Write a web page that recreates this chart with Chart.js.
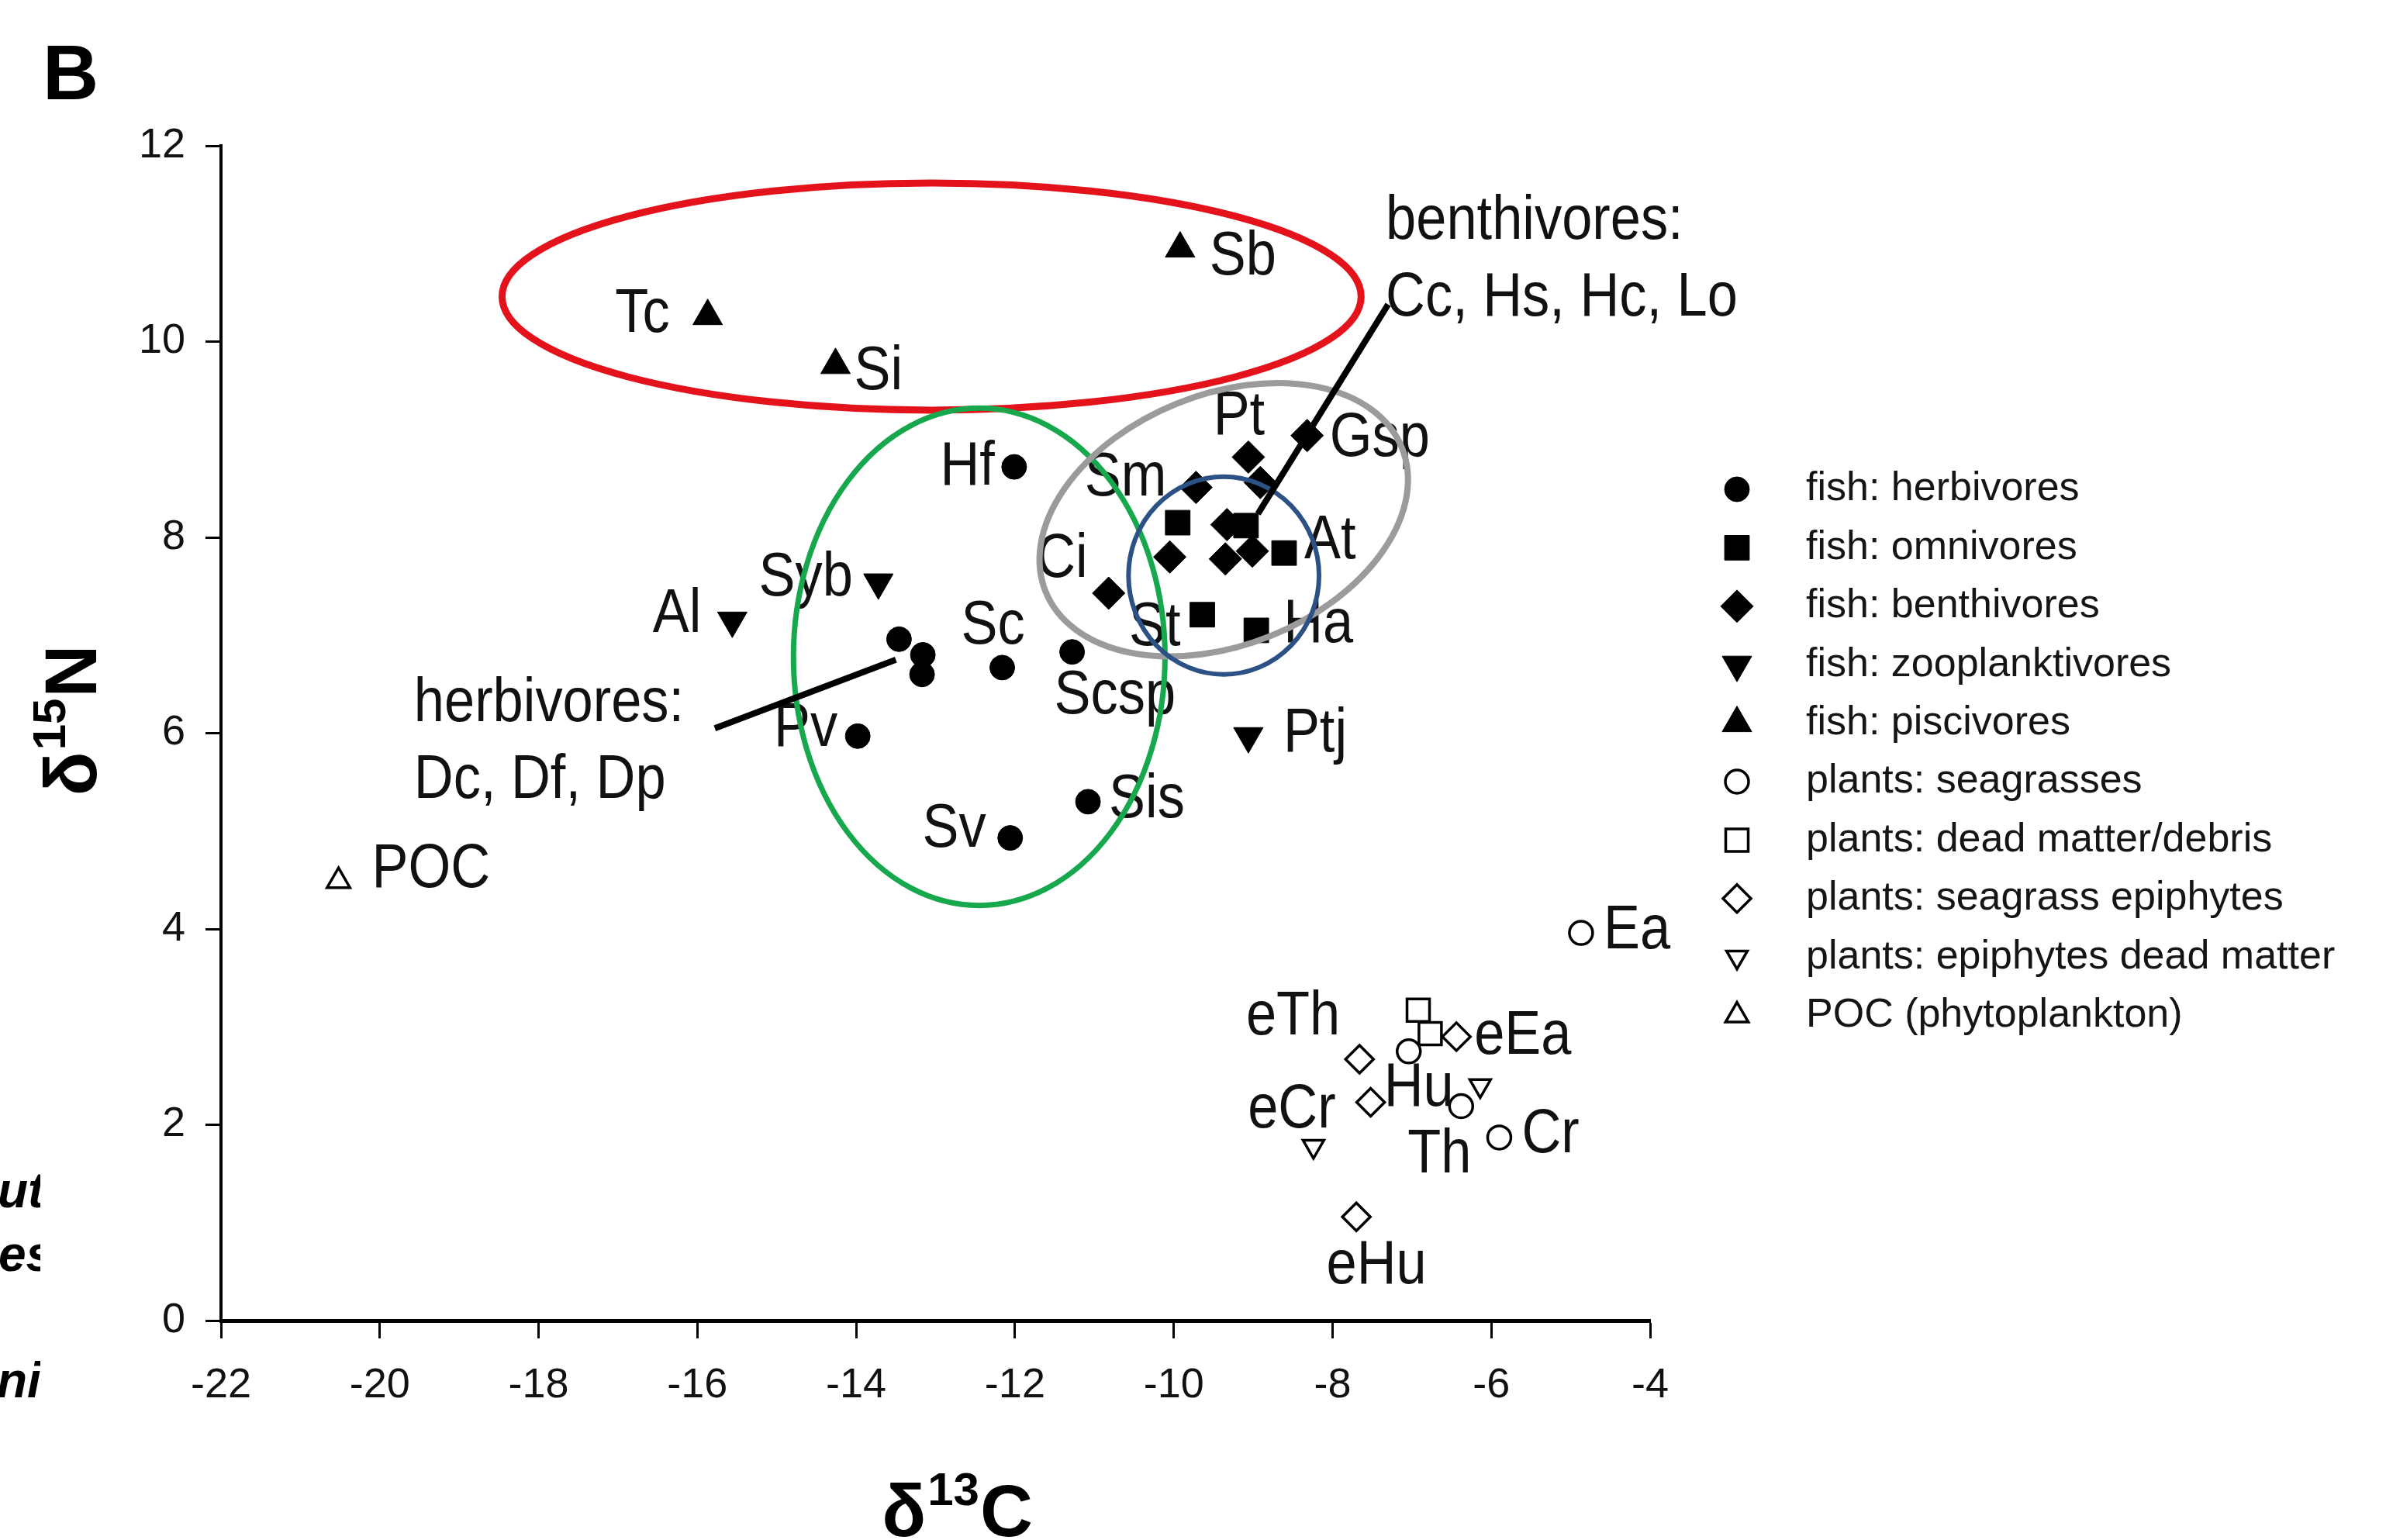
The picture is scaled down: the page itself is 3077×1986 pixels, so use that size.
<!DOCTYPE html>
<html lang="en">
<head>
  <meta charset="UTF-8">
  <title>Panel B – δ13C vs δ15N food web</title>
  <script src="https://cdn.jsdelivr.net/npm/chart.js"></script>
  <style>
    html, body { margin: 0; padding: 0; background: #fff; }
    #wrap { width: 3077px; height: 1986px; position: relative; }
  </style>
</head>
<body>
  <div id="wrap"><canvas id="isotopes"></canvas></div>
  <script>
    // legend order of the groups
    const groupNames = [
      'fish: herbivores', 'fish: omnivores', 'fish: benthivores', 'fish: zooplanktivores', 'fish: piscivores',
      'plants: seagrasses', 'plants: dead matter/debris', 'plants: seagrass epiphytes',
      'plants: epiphytes dead matter', 'POC (phytoplankton)'
    ];

    // δ13C (x) and δ15N (y) per group, names are the codes printed beside the points
    const herbNames = ['Hf', '', '', '', 'Sc', 'Scsp', 'Pv', 'Sv', 'Sis'];
    const herbC = [-12.01, -13.46, -13.16, -13.17, -12.16, -11.28, -13.98, -12.06, -11.08];
    const herbN = [8.72, 6.96, 6.80, 6.60, 6.67, 6.83, 5.97, 4.93, 5.30];

    const omniNames = ['', '', 'At', 'St', 'Ha'];
    const omniC = [-9.95, -9.09, -8.61, -9.64, -8.96];
    const omniN = [8.15, 8.12, 7.84, 7.21, 7.05];

    const benthNames = ['Gsp', 'Pt', 'Sm', '', 'Ci', '', '', '', ''];
    const benthC = [-8.32, -9.06, -9.72, -8.91, -10.82, -10.05, -9.33, -9.35, -9.01];
    const benthN = [9.04, 8.82, 8.51, 8.56, 7.43, 7.80, 8.13, 7.78, 7.86];

    const zooNames = ['Al', 'Syb', 'Ptj'];
    const zooC = [-15.56, -13.72, -9.06];
    const zooN = [7.15, 7.54, 5.97];

    const pisciNames = ['Tc', 'Si', 'Sb'];
    const pisciC = [-15.87, -14.26, -9.92];
    const pisciN = [10.26, 9.76, 10.95];

    const seagrassNames = ['Ea', 'Hu', 'Th', 'Cr'];
    const seagrassC = [-4.87, -7.04, -6.38, -5.90];
    const seagrassN = [3.96, 2.75, 2.19, 1.87];

    const debrisNames = ['', ''];
    const debrisC = [-6.92, -6.77];
    const debrisN = [3.17, 2.93];

    const epiNames = ['eTh', 'eEa', 'eCr', 'eHu'];
    const epiC = [-7.66, -6.44, -7.52, -7.70];
    const epiN = [2.67, 2.90, 2.23, 1.06];

    const epiDeadNames = ['', ''];
    const epiDeadC = [-6.14, -8.24];
    const epiDeadN = [2.40, 1.78];

    const pocNames = ['POC'];
    const pocC = [-20.52];
    const pocN = [4.49];

    const xTicks = [-22, -20, -18, -16, -14, -12, -10, -8, -6, -4];
    const yTicks = [0, 2, 4, 6, 8, 10, 12];

    // group outlines (centre and half-widths in axis units)
    const hullNames = ['piscivores', 'herbivores', 'benthivores', 'omnivores'];
    const hullC = [-13.05, -12.45, -9.37, -9.37];
    const hullN = [10.46, 6.78, 8.18, 7.61];
    const hullHalfC = [5.41, 2.34, 2.42, 1.20];
    const hullHalfN = [1.16, 2.54, 1.28, 1.01];
    const hullTilt = [0, 0, 22, 0];

    // call-outs for the points hidden in clusters
    const calloutText = [['herbivores:', 'Dc, Df, Dp'], ['benthivores:', 'Cc, Hs, Hc, Lo']];
    const calloutFromC = [-15.78, -7.30];
    const calloutFromN = [6.05, 10.38];
    const calloutToC = [-13.50, -8.94];
    const calloutToN = [6.75, 8.24];

    // ---- styling ----
    const FONT = '"Liberation Sans", Arial, Helvetica, sans-serif';
    const hullStyle = [
      { color: '#e3121b', width: 9 },
      { color: '#17a84e', width: 7 },
      { color: '#9b9b9b', width: 8 },
      { color: '#2b5185', width: 6 }
    ];
    const calloutTextOffset = [[-388, -31, 68], [-3, -107, -8]];
    const markers = [
      { style: 'circle', r: 16, rot: 0, fill: true },
      { style: 'rect', r: 22.5, rot: 0, fill: true },
      { style: 'rectRot', r: 21, rot: 0, fill: true },
      { style: 'triangle', r: 22, rot: 180, fill: true },
      { style: 'triangle', r: 22, rot: 0, fill: true },
      { style: 'circle', r: 15, rot: 0, fill: false },
      { style: 'rect', r: 20.5, rot: 0, fill: false },
      { style: 'rectRot', r: 18, rot: 0, fill: false },
      { style: 'triangle', r: 15.5, rot: 180, fill: false },
      { style: 'triangle', r: 17, rot: 0, fill: false }
    ];
    // [align, dx, dy] in pixels from the point
    const labelPlace = {
      Tc: ['right', -49, -2], Si: ['left', 24, 9], Sb: ['left', 38, 11],
      Al: ['right', -40, -7], Syb: ['right', -33, -5], Ptj: ['left', 45, -2],
      Hf: ['right', -25, 1], Sc: ['center', -12, -53], Scsp: ['left', -23, 57],
      Pv: ['right', -26, -9], Sv: ['right', -31, -11], Sis: ['left', 27, -2],
      At: ['left', 26, -15], St: ['right', -28, 17], Ha: ['left', 35, -7],
      Gsp: ['left', 29, 4], Pt: ['center', -12, -52], Sm: ['right', -38, -12], Ci: ['right', -27, -43],
      POC: ['left', 43, -14], Ea: ['left', 29, -2], Hu: ['center', 13, 48], Th: ['center', -28, 63],
      Cr: ['left', 29, -3], eTh: ['right', -25, -54], eEa: ['left', 23, 0],
      eCr: ['right', -45, 10], eHu: ['center', 26, 64]
    };

    const seriesC = [herbC, omniC, benthC, zooC, pisciC, seagrassC, debrisC, epiC, epiDeadC, pocC];
    const seriesN = [herbN, omniN, benthN, zooN, pisciN, seagrassN, debrisN, epiN, epiDeadN, pocN];
    const seriesNames = [herbNames, omniNames, benthNames, zooNames, pisciNames,
      seagrassNames, debrisNames, epiNames, epiDeadNames, pocNames];

    const datasets = groupNames.map((label, i) => {
      const m = markers[i];
      return {
        label,
        names: seriesNames[i],
        data: seriesC[i].map((c, j) => ({ x: c, y: seriesN[i][j] })),
        pointStyle: m.style,
        pointRadius: m.r,
        pointHoverRadius: m.r,
        pointRotation: m.rot,
        pointBackgroundColor: m.fill ? '#000' : '#fff',
        pointBorderColor: '#000',
        pointBorderWidth: m.fill ? 1 : 3.5,
        showLine: false
      };
    });

    function narrowText(ctx, text, x, y, align) {
      ctx.save();
      ctx.translate(x, y);
      ctx.scale(0.88, 1);
      ctx.textAlign = align;
      ctx.fillText(text, 0, 0);
      ctx.restore();
    }

    // δ + superscript mass number + element, drawn left to right from x
    function isoLabel(ctx, x, y, mass, element) {
      ctx.textAlign = 'left';
      ctx.textBaseline = 'alphabetic';
      ctx.font = 'bold 94px ' + FONT;
      ctx.fillText('δ', x, y);
      x += ctx.measureText('δ').width + 2;
      ctx.font = 'bold 60px ' + FONT;
      ctx.fillText(mass, x, y - 40);
      x += ctx.measureText(mass).width + 1;
      ctx.font = 'bold 94px ' + FONT;
      ctx.fillText(element, x, y);
    }
    function isoWidth(ctx, mass, element) {
      ctx.font = 'bold 94px ' + FONT;
      let w = ctx.measureText('δ').width + ctx.measureText(element).width + 3;
      ctx.font = 'bold 60px ' + FONT;
      return w + ctx.measureText(mass).width;
    }

    const isotopeDecor = {
      id: 'isotopeDecor',
      afterDatasetsDraw(chart) {
        const { ctx, scales: { x, y } } = chart;
        ctx.save();

        // codes beside the points
        ctx.fillStyle = '#111';
        ctx.font = '80px ' + FONT;
        ctx.textBaseline = 'middle';
        chart.data.datasets.forEach((ds, i) => {
          chart.getDatasetMeta(i).data.forEach((pt, j) => {
            const place = labelPlace[ds.names[j]];
            if (!place) return;
            narrowText(ctx, ds.names[j], pt.x + place[1], pt.y + place[2], place[0]);
          });
        });

        // group outlines
        hullNames.forEach((_, k) => {
          const cx = x.getPixelForValue(hullC[k]);
          const cy = y.getPixelForValue(hullN[k]);
          const rx = Math.abs(x.getPixelForValue(hullC[k] + hullHalfC[k]) - cx);
          const ry = Math.abs(y.getPixelForValue(hullN[k] + hullHalfN[k]) - cy);
          ctx.beginPath();
          ctx.ellipse(cx, cy, rx, ry, -hullTilt[k] * Math.PI / 180, 0, 2 * Math.PI);
          ctx.strokeStyle = hullStyle[k].color;
          ctx.lineWidth = hullStyle[k].width;
          ctx.stroke();
        });

        // call-out lines and their text
        calloutText.forEach((lines, k) => {
          const x0 = x.getPixelForValue(calloutFromC[k]);
          const y0 = y.getPixelForValue(calloutFromN[k]);
          ctx.beginPath();
          ctx.moveTo(x0, y0);
          ctx.lineTo(x.getPixelForValue(calloutToC[k]), y.getPixelForValue(calloutToN[k]));
          ctx.strokeStyle = '#000';
          ctx.lineWidth = 8;
          ctx.stroke();
          const off = calloutTextOffset[k];
          ctx.fillStyle = '#111';
          ctx.font = '80px ' + FONT;
          narrowText(ctx, lines[0], x0 + off[0], y0 + off[1], 'left');
          narrowText(ctx, lines[1], x0 + off[0], y0 + off[2], 'left');
        });
        ctx.restore();
      },
      afterDraw(chart) {
        const { ctx, chartArea } = chart;
        ctx.save();

        // legend
        const lx = chartArea.right + 112;
        const tx = chartArea.right + 201;
        chart.data.datasets.forEach((ds, i) => {
          const ly = 631 + i * 75.4;
          ctx.fillStyle = ds.pointBackgroundColor;
          ctx.strokeStyle = ds.pointBorderColor;
          ctx.lineWidth = ds.pointBorderWidth;
          Chart.helpers.drawPoint(ctx, {
            pointStyle: ds.pointStyle, radius: ds.pointRadius,
            rotation: ds.pointRotation, borderWidth: ds.pointBorderWidth
          }, lx, ly);
          ctx.fillStyle = '#151515';
          ctx.font = '52px ' + FONT;
          ctx.textAlign = 'left';
          ctx.textBaseline = 'middle';
          ctx.fillText(ds.label, tx, ly);
        });

        // axis titles
        ctx.fillStyle = '#000';
        const cx = (chartArea.left + chartArea.right) / 2 + 28;
        isoLabel(ctx, cx - isoWidth(ctx, '13', 'C') / 2, 1981, '13', 'C');
        ctx.save();
        ctx.translate(90, 929);
        ctx.rotate(-Math.PI / 2);
        isoLabel(ctx, -isoWidth(ctx, '15', 'N') / 2, 34, '15', 'N');
        ctx.restore();

        // panel letter
        ctx.font = 'bold 100px ' + FONT;
        ctx.textAlign = 'left';
        ctx.textBaseline = 'alphabetic';
        ctx.fillText('B', 55, 128);

        // cut-off text of the neighbouring panel
        ctx.save();
        ctx.beginPath();
        ctx.rect(0, 1400, 52, 500);
        ctx.clip();
        ctx.font = 'italic bold 64px ' + FONT;
        ctx.textAlign = 'left';
        ctx.fillText('uti', -3, 1557);
        ctx.fillText('es,', -2, 1639);
        ctx.fillText('nic', -4, 1802);
        ctx.restore();

        ctx.restore();
      }
    };

    const tickFont = { family: FONT, size: 54 };

    new Chart(document.getElementById('isotopes'), {
      type: 'scatter',
      data: { datasets },
      options: {
        responsive: true,
        maintainAspectRatio: false,
        animation: false,
        devicePixelRatio: 1,
        layout: { padding: { top: 188, right: 949, bottom: 0, left: 0 } },
        plugins: { legend: { display: false }, tooltip: { enabled: false } },
        scales: {
          x: {
            type: 'linear',
            position: 'bottom',
            min: -22,
            max: -4,
            afterBuildTicks: s => { s.ticks = xTicks.map(v => ({ value: v })); },
            afterFit: s => { s.height = 283; },
            ticks: { font: tickFont, color: '#111', padding: 29, maxRotation: 0, autoSkip: false, callback: v => String(v) },
            grid: { drawOnChartArea: false, drawTicks: true, tickLength: 23, tickWidth: 3, tickColor: '#000' },
            border: { display: true, color: '#000', width: 5 }
          },
          y: {
            type: 'linear',
            position: 'left',
            min: 0,
            max: 12,
            afterBuildTicks: s => { s.ticks = yTicks.map(v => ({ value: v })); },
            afterFit: s => { s.width = 285; },
            ticks: { font: tickFont, color: '#111', padding: 26, autoSkip: false, callback: v => String(v) },
            grid: { drawOnChartArea: false, drawTicks: true, tickLength: 20, tickWidth: 3, tickColor: '#000' },
            border: { display: true, color: '#000', width: 4 }
          }
        }
      },
      plugins: [isotopeDecor]
    });
  </script>
</body>
</html>
